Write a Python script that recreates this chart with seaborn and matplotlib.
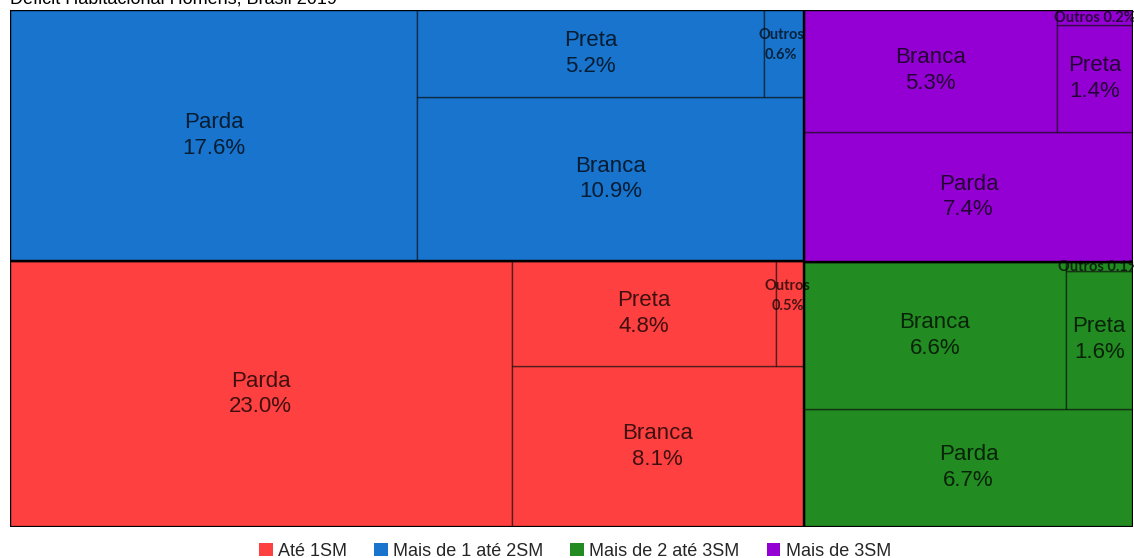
import matplotlib
matplotlib.use("Agg")
import matplotlib.pyplot as plt
from matplotlib.patches import Rectangle, Patch
import seaborn as sns

# Déficit habitacional (homens) por faixa de renda e raça/cor, em % do total
grupos = ['Até 1SM', 'Mais de 1 até 2SM', 'Mais de 2 até 3SM', 'Mais de 3SM']
cores = ['#FF4040', '#1874CD', '#228B22', '#9400D3']
racas = ['Parda', 'Branca', 'Preta', 'Outros']
ate_1sm = [23.0, 8.1, 4.8, 0.5]
de_1_a_2sm = [17.6, 10.9, 5.2, 0.6]
de_2_a_3sm = [6.7, 6.6, 1.6, 0.1]
mais_3sm = [7.4, 5.3, 1.4, 0.2]
titulo = 'Déficit Habitacional Homens, Brasil 2019'

sns.set_theme(style='white')
plt.rcParams['font.family'] = ['Liberation Sans', 'DejaVu Sans']


def cortar(rect, pesos, eixo):
    # divide um retangulo em fatias proporcionais aos pesos
    x, y, w, h = rect
    total = sum(pesos)
    saida = []
    for p in pesos:
        if eixo == 'x':
            dw = w * p / total
            saida.append((x, y, dw, h))
            x += dw
        else:
            dh = h * p / total
            saida.append((x, y, w, dh))
            y += dh
    return saida


def layout_esq(rect, v):
    parda, resto = cortar(rect, [v[0], sum(v[1:])], 'x')
    topo, branca = cortar(resto, [v[2] + v[3], v[1]], 'y')
    preta, outros = cortar(topo, [v[2], v[3]], 'x')
    return [parda, branca, preta, outros]


def layout_dir(rect, v):
    topo, parda = cortar(rect, [sum(v[1:]), v[0]], 'y')
    branca, coluna = cortar(topo, [v[1], v[2] + v[3]], 'x')
    outros, preta = cortar(coluna, [v[3], v[2]], 'y')
    return [parda, branca, preta, outros]


valores = [ate_1sm, de_1_a_2sm, de_2_a_3sm, mais_3sm]
esq, dir_ = cortar((0, 0, 1, 1), [sum(ate_1sm) + sum(de_1_a_2sm),
                                  sum(de_2_a_3sm) + sum(mais_3sm)], 'x')
r_azul, r_verm = cortar(esq, [sum(de_1_a_2sm), sum(ate_1sm)], 'y')
r_roxo, r_verde = cortar(dir_, [sum(mais_3sm), sum(de_2_a_3sm)], 'y')
rects_grupo = [r_verm, r_azul, r_verde, r_roxo]
rects_itens = [layout_esq(r_verm, ate_1sm), layout_esq(r_azul, de_1_a_2sm),
               layout_dir(r_verde, de_2_a_3sm), layout_dir(r_roxo, mais_3sm)]

fig = plt.figure(figsize=(11.34, 5.58), dpi=100)
ax = fig.add_axes([10 / 1134, 31 / 558, 1123 / 1134, 517 / 558])
ax.set_xlim(0, 1)
ax.set_ylim(1, 0)
ax.axis('off')

for g, cor in enumerate(cores):
    for raca, v, (x, y, w, h) in zip(racas, valores[g], rects_itens[g]):
        ax.add_patch(Rectangle((x, y), w, h, facecolor=cor,
                               edgecolor=(0, 0, 0, 0.55), lw=1.0))
        if raca != 'Outros':
            ax.text(x + w / 2, y + h / 2, f'{raca}\n{v:.1f}%', ha='center',
                    va='center', fontsize=16, color='black', alpha=0.75,
                    linespacing=1.3)
        elif h > 0.1:
            ax.annotate(f'{raca}\n{v:.1f}%', xy=(x + w / 2, y),
                        xytext=(-2, -13), textcoords='offset points',
                        ha='center', va='top', fontsize=10.5,
                        fontweight='bold', family=['Lato', 'DejaVu Sans'],
                        color='black', alpha=0.7, linespacing=1.55,
                        annotation_clip=False)
        else:
            ax.text(x + w / 2, y + h / 2, f'{raca} {v:.1f}%', ha='center',
                    va='center', fontsize=10.5, fontweight='bold',
                    family=['Lato', 'DejaVu Sans'], color='black',
                    alpha=0.7, clip_on=False)
    x, y, w, h = rects_grupo[g]
    ax.add_patch(Rectangle((x, y), w, h, fill=False, edgecolor='black',
                           lw=1.6, zorder=3))

fig.text(10 / 1134, 1 - 3 / 558, titulo, ha='left', va='baseline',
         fontsize=13, color='black')

handles = [Patch(facecolor=c, edgecolor='none') for c in cores]
fig.legend(handles, grupos, loc='lower center', ncol=4, frameon=False,
           bbox_to_anchor=(0.507, -0.032), fontsize=13, handlelength=0.75,
           handleheight=0.75, handletextpad=0.3, columnspacing=1.5)

fig.savefig('out.png', dpi=100)
